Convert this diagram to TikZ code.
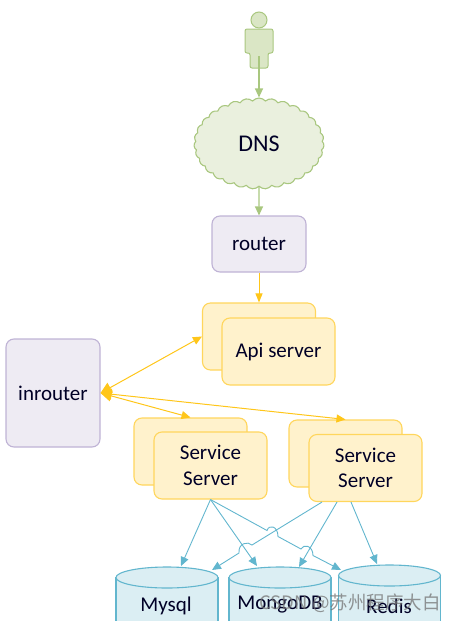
\documentclass[tikz,border=0pt]{standalone}
\usepackage{fontspec}
\setmainfont{Carlito}
\newfontfamily\cjkwm{Noto Sans CJK SC}
\usetikzlibrary{shapes.geometric,shapes.symbols,arrows.meta,calc}
\tikzset{
  txt/.style={text=black!85!blue,font=\fontsize{21}{25.5}\selectfont,align=center},
  purplebox/.style={draw=violetline,fill=violetfill,line width=1.1pt,rounded corners=8pt,minimum width=94pt,txt,inner sep=0pt},
  yellowbox/.style={draw=yellowline,fill=yellowfill,line width=1.1pt,rounded corners=8pt,minimum width=113pt,minimum height=67pt,txt,inner sep=0pt},
  dbbody/.style={draw=blueline,fill=bluefill,line width=1.1pt},
  garrow/.style={draw=greenline,line width=1.1pt,-{Triangle[length=9pt,width=8pt]}},
  yarrow/.style={draw=yarrowcol,line width=1pt,{Triangle[length=11pt,width=11pt]}-{Triangle[length=9pt,width=8pt]}},
  yarrowone/.style={draw=yarrowcol,line width=1pt,-{Triangle[length=9pt,width=7pt]}},
  barrow/.style={draw=blueline,line width=0.9pt,-{Triangle[length=9pt,width=8pt]}}
}
\definecolor{greenline}{HTML}{A9C77F}
\definecolor{greenfill}{HTML}{DAE6C5}
\definecolor{cloudfill}{HTML}{EAF0DE}
\definecolor{violetline}{HTML}{BFB3D5}
\definecolor{violetfill}{HTML}{EEEBF3}
\definecolor{yellowline}{HTML}{FFD65C}
\definecolor{yarrowcol}{HTML}{FFC61A}
\definecolor{yellowfill}{HTML}{FFF2CC}
\definecolor{blueline}{HTML}{62B6CE}
\definecolor{bluefill}{HTML}{DBEEF3}
\newcommand\dbdrum[2]{%
  \draw[dbbody] (#1-51,#2) -- (#1-51,640) -- (#1+51,640) -- (#1+51,#2) -- cycle;
  \draw[dbbody] (#1,#2) ellipse [x radius=51,y radius=10.5];
}
\begin{document}
\begin{tikzpicture}[x=1pt,y=-1pt]
\clip (0,0) rectangle (459,621);
% user figure
\coordinate (user) at (259,56);
\draw[greenline,fill=greenfill,line width=1pt,rounded corners=2pt]
  (245,29) -- (273,29) -- (273,53) -- (268,53) -- (268,68) -- (250,68) -- (250,53) -- (245,53) -- cycle;
\draw[greenline,fill=greenfill,line width=1pt] (259,20) circle (8);
% cloud
\node[cloud,cloud puffs=31,cloud puff arc=100,aspect=1.45,draw=greenline,fill=cloudfill,line width=1.1pt,
  minimum width=130pt,minimum height=91pt,inner sep=0pt,font=\fontsize{24}{28}\selectfont,text=black!85!blue] (dns) at (259,143.5) {DNS};
% boxes
\node[purplebox,minimum height=56pt] (router) at (259,244) {router};
\node[yellowbox] (apib) at (259,336.5) {};
\node[yellowbox] (apif) at (278.5,351.5) {\raisebox{-2pt}{Api server}};
\node[purplebox,minimum height=108pt] (inrouter) at (53,393) {inrouter};
\node[yellowbox] (sl) at (190.5,451.5) {};
\node[yellowbox] (slf) at (210.5,465.5) {Service\\Server};
\node[yellowbox] (sr) at (345.5,453.5) {};
\node[yellowbox] (srf) at (365.5,468) {Service\\Server};
% cylinders
\dbdrum{167}{577.5}
\dbdrum{280}{577.5}
\dbdrum{389.5}{575.5}
\node[txt] (mysqlt) at (166,606) {Mysql};
\node[txt] (mongot) at (280,605) {MongoDB};
\node[txt] (redist) at (389,606) {Redis};
% green and yellow connectors
\draw[garrow] (user) -- (dns.north);
\draw[garrow] (dns.south) -- (router.north);
\draw[yarrowone] (router.south) -- (apib.north);
\coordinate (inr) at (inrouter.east);
\draw[yarrow] (inr) -- (apib.west);
\draw[yarrow] (inr) -- (sl.north);
\draw[yarrow] (inr) -- (sr.north);
% blue connectors
\coordinate (a) at (slf.south);
\coordinate (b) at ($(srf.south)+(-43.5,0)$);
\coordinate (c) at ($(srf.south)+(-28.5,0)$);
\coordinate (d) at ($(srf.south)+(-14.5,0)$);
\coordinate (myt) at (181,566);
\coordinate (myr) at (212,570);
\coordinate (mot) at (257,566);
\coordinate (mor) at (299,567);
\coordinate (ret) at (341,570);
\coordinate (rer) at (377,564);
\draw[barrow] (a) -- (myt);
\draw[barrow] (a) -- (mot);
\draw[barrow] (a) -- (267,530.5) .. controls (269,524) and (278,526) .. (278,536.5)
  -- (301,549) .. controls (303,544) and (313,545) .. (313,555.5) -- (ret);
\draw[barrow] (b) -- (252,545) .. controls (248,541) and (238,543) .. (239,553) -- (myr);
\draw[barrow] (c) -- (mor);
\draw[barrow] (d) -- (rer);
% watermark
\node[text=black!55,opacity=.75,font=\cjkwm\fontsize{18.5}{22}\selectfont,inner sep=0pt] (wm) at (350,603) {CSDN @苏州程序大白};
\end{tikzpicture}
\end{document}
